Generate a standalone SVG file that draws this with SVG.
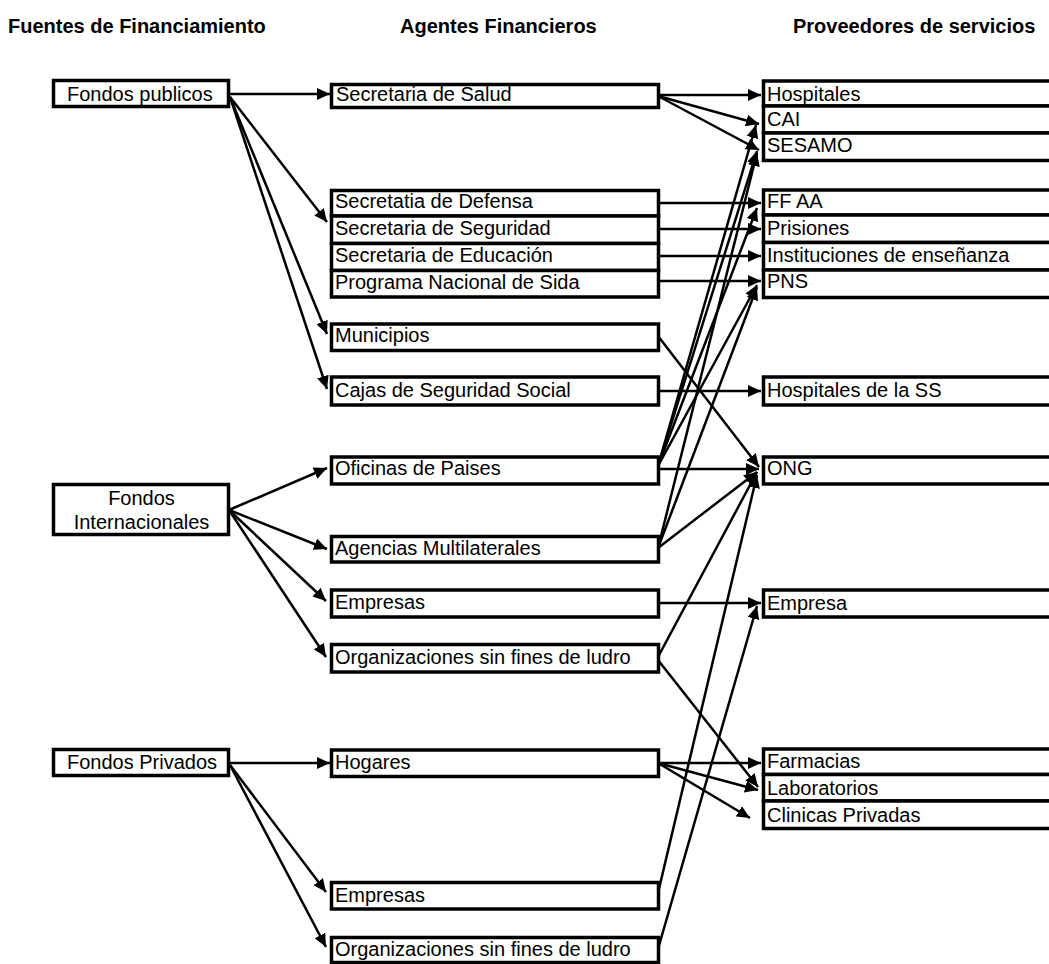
<svg xmlns="http://www.w3.org/2000/svg" width="1049" height="964" viewBox="0 0 1049 964">
<style>
.b{fill:#fff;stroke:#000;stroke-width:3.5}
.t{font-family:"Liberation Sans",Arial,sans-serif;font-size:20px;fill:#000}
.h{font-family:"Liberation Sans",Arial,sans-serif;font-size:20px;font-weight:bold;fill:#000}
.c{stroke:#000;stroke-width:2.5;fill:none;marker-end:url(#ah)}
</style>
<defs>
<marker id="ah" markerUnits="userSpaceOnUse" markerWidth="14" markerHeight="12" refX="13" refY="6" orient="auto"><path d="M0,0 L13,6 L0,12 z" fill="#000"/></marker>
</defs>
<rect width="1049" height="964" fill="#fff"/>
<g id="headers">
<text class="h" x="8" y="33">Fuentes de Financiamiento</text>
<text class="h" x="400" y="33">Agentes Financieros</text>
<text class="h" x="793" y="33">Proveedores de servicios</text>
</g>
<g id="connectors">
<path class="c" d="M230,94 L330,94"/>
<path class="c" d="M230,97 L327,222"/>
<path class="c" d="M230,97 L327,334"/>
<path class="c" d="M230,97 L327,389"/>
<path class="c" d="M229,510 L327,468"/>
<path class="c" d="M229,510 L327,549"/>
<path class="c" d="M229,510 L326,601"/>
<path class="c" d="M229,510 L326,657"/>
<path class="c" d="M230,763 L330,763"/>
<path class="c" d="M230,765 L326,892"/>
<path class="c" d="M230,765 L326,947"/>
<path class="c" d="M658,95 L761,95"/>
<path class="c" d="M658,96 L759,124"/>
<path class="c" d="M658,96 L759,150"/>
<path class="c" d="M658,203 L761,203"/>
<path class="c" d="M658,229 L761,229"/>
<path class="c" d="M658,256 L761,256"/>
<path class="c" d="M658,281 L761,281"/>
<path class="c" d="M658,336 L759,467"/>
<path class="c" d="M658,391 L761,391"/>
<path class="c" d="M658,469 L759,469"/>
<path class="c" d="M658,466 L756,125"/>
<path class="c" d="M658,466 L757,151"/>
<path class="c" d="M658,466 L757,208"/>
<path class="c" d="M658,466 L757,285"/>
<path class="c" d="M658,548 L757,153"/>
<path class="c" d="M658,548 L757,287"/>
<path class="c" d="M658,548 L757,472"/>
<path class="c" d="M658,603 L761,603"/>
<path class="c" d="M658,657 L757,472"/>
<path class="c" d="M658,660 L758,787"/>
<path class="c" d="M658,763 L761,763"/>
<path class="c" d="M658,763 L758,790"/>
<path class="c" d="M658,763 L750,818"/>
<path class="c" d="M658,893 L757,475"/>
<path class="c" d="M658,949 L757,606"/>
</g>
<g id="fondos-publicos"><rect class="b" x="53.5" y="80.5" width="175" height="26"/><text class="t" x="67" y="101">Fondos publicos</text></g>
<g id="fondos-internacionales"><rect class="b" x="53.5" y="484.5" width="175" height="50"/><text class="t" x="141.5" y="505" text-anchor="middle">Fondos</text><text class="t" x="141.5" y="529" text-anchor="middle">Internacionales</text></g>
<g id="fondos-privados"><rect class="b" x="53.5" y="749.5" width="175" height="26"/><text class="t" x="67" y="769">Fondos Privados</text></g>

<g id="sec-salud"><rect class="b" x="331.5" y="84.5" width="327" height="23"/><text class="t" x="336" y="101">Secretaria de Salud</text></g>
<g id="sec-defensa"><rect class="b" x="331.5" y="190.5" width="327" height="25.5"/><text class="t" x="335" y="208">Secretatia de Defensa</text></g>
<g id="sec-seguridad"><rect class="b" x="331.5" y="216" width="327" height="27.5"/><text class="t" x="335" y="235">Secretaria de Seguridad</text></g>
<g id="sec-educacion"><rect class="b" x="331.5" y="243.5" width="327" height="27"/><text class="t" x="335" y="262">Secretaria de Educación</text></g>
<g id="pns-prog"><rect class="b" x="331.5" y="270.5" width="327" height="26.5"/><text class="t" x="335" y="289">Programa Nacional de Sida</text></g>
<g id="municipios"><rect class="b" x="331.5" y="324" width="327" height="26.5"/><text class="t" x="335" y="342">Municipios</text></g>
<g id="cajas"><rect class="b" x="331.5" y="377" width="327" height="28"/><text class="t" x="335" y="397">Cajas de Seguridad Social</text></g>
<g id="oficinas"><rect class="b" x="331.5" y="457" width="327" height="27"/><text class="t" x="335" y="475">Oficinas de Paises</text></g>
<g id="agencias"><rect class="b" x="331.5" y="536.5" width="327" height="25.5"/><text class="t" x="335" y="555">Agencias Multilaterales</text></g>
<g id="empresas-1"><rect class="b" x="331.5" y="590" width="327" height="27"/><text class="t" x="335" y="609">Empresas</text></g>
<g id="osfl-1"><rect class="b" x="331.5" y="644.5" width="327" height="27.5"/><text class="t" x="335" y="664">Organizaciones sin fines de ludro</text></g>
<g id="hogares"><rect class="b" x="331.5" y="750" width="327" height="26.5"/><text class="t" x="335" y="769">Hogares</text></g>
<g id="empresas-2"><rect class="b" x="331.5" y="882.5" width="327" height="26.5"/><text class="t" x="335" y="902">Empresas</text></g>
<g id="osfl-2"><rect class="b" x="331.5" y="937.5" width="327" height="25"/><text class="t" x="335" y="956">Organizaciones sin fines de ludro</text></g>

<g id="hospitales"><rect class="b" x="763.5" y="81" width="300" height="25"/><text class="t" x="767" y="101">Hospitales</text></g>
<g id="cai"><rect class="b" x="763.5" y="106" width="300" height="27"/><text class="t" x="767" y="126">CAI</text></g>
<g id="sesamo"><rect class="b" x="763.5" y="133" width="300" height="27.5"/><text class="t" x="767" y="152">SESAMO</text></g>
<g id="ffaa"><rect class="b" x="763.5" y="190" width="300" height="25"/><text class="t" x="767" y="208">FF AA</text></g>
<g id="prisiones"><rect class="b" x="763.5" y="215" width="300" height="27.5"/><text class="t" x="767" y="235">Prisiones</text></g>
<g id="instituciones"><rect class="b" x="763.5" y="242.5" width="300" height="27.5"/><text class="t" x="767" y="262">Instituciones de enseñanza</text></g>
<g id="pns"><rect class="b" x="763.5" y="270" width="300" height="27.5"/><text class="t" x="767" y="288">PNS</text></g>
<g id="hospitales-ss"><rect class="b" x="763.5" y="377" width="300" height="28"/><text class="t" x="767" y="397">Hospitales de la SS</text></g>
<g id="ong"><rect class="b" x="763.5" y="457" width="300" height="27"/><text class="t" x="767" y="475">ONG</text></g>
<g id="empresa"><rect class="b" x="763.5" y="590" width="300" height="27"/><text class="t" x="767" y="610">Empresa</text></g>
<g id="farmacias"><rect class="b" x="763.5" y="749" width="300" height="25.5"/><text class="t" x="767" y="768">Farmacias</text></g>
<g id="laboratorios"><rect class="b" x="763.5" y="774.5" width="300" height="26.5"/><text class="t" x="767" y="795">Laboratorios</text></g>
<g id="clinicas"><rect class="b" x="763.5" y="801" width="300" height="27.5"/><text class="t" x="767" y="822">Clinicas Privadas</text></g>
</svg>
